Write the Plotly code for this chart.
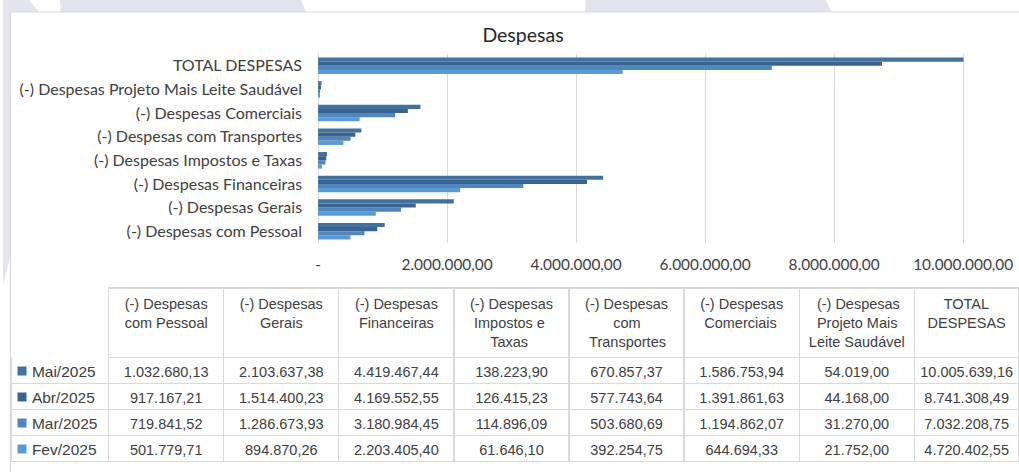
import plotly.graph_objects as go

# ---------------- data ----------------
categories = [
    "(-) Despesas com Pessoal",
    "(-) Despesas Gerais",
    "(-) Despesas Financeiras",
    "(-) Despesas Impostos e Taxas",
    "(-) Despesas com Transportes",
    "(-) Despesas Comerciais",
    "(-) Despesas Projeto Mais Leite Saudável",
    "TOTAL DESPESAS",
]
header_lines = [
    ["(-) Despesas", "com Pessoal"],
    ["(-) Despesas", "Gerais"],
    ["(-) Despesas", "Financeiras"],
    ["(-) Despesas", "Impostos e", "Taxas"],
    ["(-) Despesas", "com", "Transportes"],
    ["(-) Despesas", "Comerciais"],
    ["(-) Despesas", "Projeto Mais", "Leite Saudável"],
    ["TOTAL", "DESPESAS"],
]
months = ["Mai/2025", "Abr/2025", "Mar/2025", "Fev/2025"]
mai = [1032680.13, 2103637.38, 4419467.44, 138223.90, 670857.37, 1586753.94, 54019.00, 10005639.16]
abr = [917167.21, 1514400.23, 4169552.55, 126415.23, 577743.64, 1391861.63, 44168.00, 8741308.49]
mar = [719841.52, 1286673.93, 3180984.45, 114896.09, 503680.69, 1194862.07, 31270.00, 7032208.75]
fev = [501779.71, 894870.26, 2203405.40, 61646.10, 392254.75, 644694.33, 21752.00, 4720402.55]
month_colors = ["#41719C", "#3A6390", "#4F86BD", "#5B9BD5"]
x_tickvals = [0, 2000000, 4000000, 6000000, 8000000, 10000000]
x_ticktext = ["-", "2.000.000,00", "4.000.000,00", "6.000.000,00", "8.000.000,00", "10.000.000,00"]

AX_FONT = "Lato"
TB_FONT = "Liberation Sans"
TB_FS = 14.5
TXT = "#404040"
GRID = "#D9D9D9"
WATERMARK = "#E4E4EE"
W, H = 1019, 472
NBSP = "\u00A0"

# approximate Liberation Sans advance widths (em) used only to centre header lines
_CW = {" ": .278, "(": .333, ")": .333, "-": .333, "A": .667, "D": .722, "E": .667, "L": .556,
       "O": .778, "P": .667, "S": .667, "T": .611, "I": .278, "M": .833, "C": .722, "F": .611,
       "G": .778, "a": .556, "b": .556, "c": .5, "d": .556, "e": .556, "f": .278, "g": .556,
       "h": .556, "i": .222, "j": .222, "l": .222, "m": .833, "n": .556, "o": .556, "p": .556,
       "r": .333, "s": .5, "t": .278, "u": .556, "v": .5, "x": .5, "á": .556}


def text_w(s):
    return sum(_CW.get(ch, .556) for ch in s)


def centred_header(lines):
    mw = max(text_w(l) for l in lines)
    out = []
    for l in lines:
        pad = int(round((mw - text_w(l)) / 2 / _CW[" "]))
        out.append(NBSP * pad + l)
    return "<br>".join(out)


def fmt_br(v):
    s = f"{v:,.2f}"
    return s.replace(",", "X").replace(".", ",").replace("X", ".")


def px_path(pts):
    # path in paper coordinates from pixel points (decorative background only)
    return "M" + " L".join(f"{x / W:.5f},{1 - y / H:.5f}" for x, y in pts) + " Z"


series = [mai, abr, mar, fev]

fig = go.Figure()

# bars: drawn bottom-to-top within each group -> Fev first, Mai last (top)
for name, vals, col in reversed(list(zip(months, series, month_colors))):
    fig.add_trace(go.Bar(
        y=categories, x=vals, name=name, orientation="h",
        marker=dict(color=col, line=dict(width=0)),
        showlegend=False, hoverinfo="x+y",
    ))

# legend keys shown in the data table's first column (Excel "show legend keys")
for name, col in zip(months, month_colors):
    fig.add_trace(go.Scatter(
        x=[None], y=[None], mode="markers", name=" ", legendgroup=name,
        marker=dict(symbol="square", size=9, color=col, line=dict(width=0)),
        showlegend=True, hoverinfo="skip",
    ))

# data table
row_labels = [NBSP * 3 + m for m in months]
cols = [row_labels]
for j in range(len(categories)):
    cols.append([fmt_br(s[j]) for s in series])

TABLE_TOP = 288
fig.add_trace(go.Table(
    domain=dict(x=[8 / W, 1], y=[0, 1 - TABLE_TOP / H]),
    columnwidth=[98] + [115.5] * 7 + [105],
    header=dict(
        values=[""] + [centred_header(h) for h in header_lines],
        height=65,
        align="center",
        fill_color="white",
        line=dict(color=["white"] + [GRID] * 8, width=1.3),
        font=dict(family=TB_FONT, size=TB_FS, color=TXT),
    ),
    cells=dict(
        values=cols,
        height=26,
        align=["left"] + ["center"] * 8,
        fill_color="white",
        line=dict(color=GRID, width=1.3),
        font=dict(family=TB_FONT, size=[15.5] + [TB_FS] * 8, color=TXT),
    ),
))

x_per_px = 10000000 / (963 - 316)
x_max = (W - 316) * x_per_px

shapes = [
    # faint watermark bands visible outside the chart area
    dict(type="path", xref="paper", yref="paper", layer="below", line=dict(width=0),
         fillcolor=WATERMARK, path=px_path([(0, 0), (26, 0), (36, 12), (0, 12)])),
    dict(type="path", xref="paper", yref="paper", layer="below", line=dict(width=0),
         fillcolor=WATERMARK, path=px_path([(57, 0), (299, 0), (304, 12), (58, 12)])),
    dict(type="path", xref="paper", yref="paper", layer="below", line=dict(width=0),
         fillcolor=WATERMARK, path=px_path([(584, 0), (825, 0), (831, 12), (584, 12)])),
    dict(type="path", xref="paper", yref="paper", layer="below", line=dict(width=0),
         fillcolor=WATERMARK, path=px_path([(0, 0), (7.5, 0), (7.5, 255), (0, 285)])),
    # chart area border
    dict(type="rect", xref="paper", yref="paper",
         x0=7.5 / W, x1=1.1, y0=-0.1, y1=1 - 12 / H,
         line=dict(color=GRID, width=1.2), fillcolor="rgba(0,0,0,0)", layer="above"),
]

fig.update_layout(
    width=W, height=H,
    margin=dict(l=0, r=0, t=0, b=0),
    paper_bgcolor="white", plot_bgcolor="white",
    barmode="group", bargap=0.3, bargroupgap=0,
    font=dict(family=AX_FONT, size=15, color=TXT),
    showlegend=True,
    legend=dict(x=-1 / W, xanchor="left", y=1 - (TABLE_TOP + 70 + 13 - 18) / H, yanchor="top",
                bgcolor="rgba(0,0,0,0)", borderwidth=0, traceorder="normal",
                font=dict(family=TB_FONT, size=17.69, color=TXT), itemclick=False,
                itemdoubleclick=False),
    title=dict(text="Despesas", x=523 / W, y=1 - 35 / H, xanchor="center", yanchor="middle",
               font=dict(family=AX_FONT, size=19.5, color="#262626")),
    xaxis=dict(
        domain=[316 / W, 1], range=[0, x_max],
        tickvals=x_tickvals, ticktext=x_ticktext,
        showgrid=True, gridcolor=GRID, gridwidth=1.3,
        zeroline=True, zerolinecolor=GRID, zerolinewidth=1.3,
        showline=False, ticks="", ticklabelstandoff=11,
        tickfont=dict(family=AX_FONT, size=15.4, color=TXT),
    ),
    yaxis=dict(
        domain=[1 - 243 / H, 1 - 54 / H],
        categoryorder="array", categoryarray=categories,
        showgrid=False, showline=False, ticks="", ticklabelstandoff=15,
        tickfont=dict(family=AX_FONT, size=16, color=TXT),
    ),
    shapes=shapes,
)

fig.write_html("out.html", config={"displayModeBar": False},
               post_script="document.body.style.margin='0';document.body.style.overflow='hidden';")
